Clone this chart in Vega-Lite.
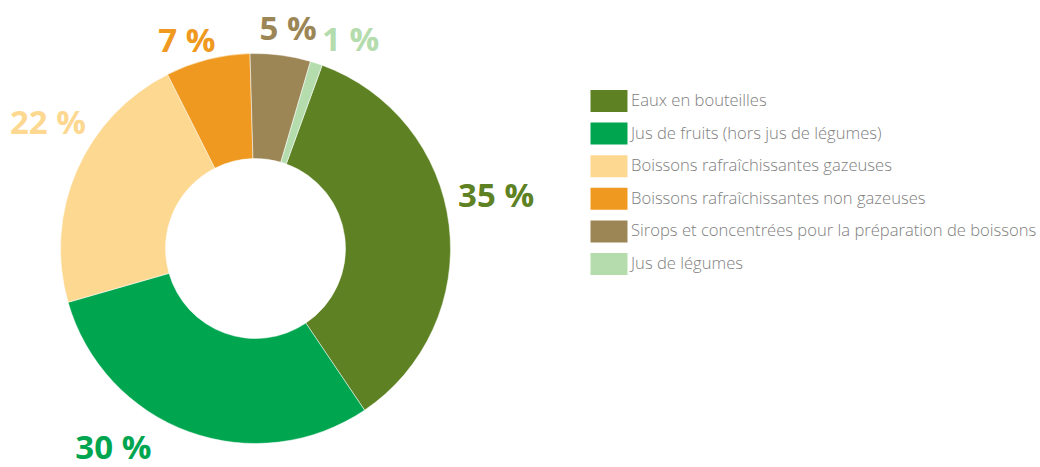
{
  "$schema": "https://vega.github.io/schema/vega-lite/v6.json",
  "width": 1040,
  "height": 467,
  "padding": 0,
  "autosize": {"type": "none"},
  "background": "white",
  "config": {"view": {"stroke": null}, "text": {"font": "Open Sans", "fontSize": 33, "fontWeight": "bold", "baseline": "middle", "align": "center"}},
  "data": {
    "values": [
      {"cat": "Eaux en bouteilles", "value": 35, "rank": 1, "label": "35 %"},
      {"cat": "Jus de fruits (hors jus de légumes)", "value": 30, "rank": 2, "label": "30 %"},
      {"cat": "Boissons rafraîchissantes gazeuses", "value": 22, "rank": 3, "label": "22 %"},
      {"cat": "Boissons rafraîchissantes non gazeuses", "value": 7, "rank": 4, "label": "7 %"},
      {"cat": "Sirops et concentrées pour la préparation de boissons", "value": 5, "rank": 5, "label": "5 %"},
      {"cat": "Jus de légumes", "value": 1, "rank": 6, "label": "1 %"}
    ]
  },
  "encoding": {
    "theta": {"field": "value", "type": "quantitative", "stack": true, "scale": {"range": [0.349, 6.632]}},
    "order": {"field": "rank", "type": "quantitative"},
    "color": {
      "field": "cat",
      "type": "nominal",
      "sort": null,
      "scale": {
        "domain": ["Eaux en bouteilles", "Jus de fruits (hors jus de légumes)", "Boissons rafraîchissantes gazeuses", "Boissons rafraîchissantes non gazeuses", "Sirops et concentrées pour la préparation de boissons", "Jus de légumes"],
        "range": ["#5e8223", "#00a550", "#fdd890", "#ef9920", "#9c8656", "#b4dcad"]
      },
      "legend": {
        "title": null,
        "orient": "none",
        "legendX": 598,
        "legendY": 90,
        "symbolType": "M-1.68,-1H1.68V1H-1.68Z",
        "symbolSize": 484,
        "symbolStrokeWidth": 0,
        "symbolOpacity": 1,
        "labelFont": "Open Sans",
        "labelFontSize": 16.6,
        "labelFontWeight": 300,
        "labelColor": "#808080",
        "labelOffset": 11,
        "labelLimit": 600,
        "rowPadding": 10.6
      }
    }
  },
  "layer": [
    {
      "mark": {"type": "arc", "x": 255.5, "y": 248.5, "outerRadius": 195, "innerRadius": 90, "stroke": "white", "strokeWidth": 0.5}
    },
    {
      "mark": {"type": "text", "x": 255.5, "y": 248.5, "radius": 246, "thetaOffset": -0.087},
      "encoding": {"text": {"condition": {"test": "datum.rank == 1", "field": "label"}, "value": ""}}
    },
    {
      "mark": {"type": "text", "x": 255.5, "y": 248.5, "radius": 246, "thetaOffset": 0.267},
      "encoding": {"text": {"condition": {"test": "datum.rank == 2", "field": "label"}, "value": ""}}
    },
    {
      "mark": {"type": "text", "x": 255.5, "y": 248.5, "radius": 242, "thetaOffset": 0.129},
      "encoding": {"text": {"condition": {"test": "datum.rank == 3", "field": "label"}, "value": ""}}
    },
    {
      "mark": {"type": "text", "x": 255.5, "y": 248.5, "radius": 218, "thetaOffset": -0.072},
      "encoding": {"text": {"condition": {"test": "datum.rank == 4", "field": "label"}, "value": ""}}
    },
    {
      "mark": {"type": "text", "x": 255.5, "y": 248.5, "radius": 221, "thetaOffset": 0.019},
      "encoding": {"text": {"condition": {"test": "datum.rank == 5", "field": "label"}, "value": ""}}
    },
    {
      "mark": {"type": "text", "x": 255.5, "y": 248.5, "radius": 228, "thetaOffset": 0.113},
      "encoding": {"text": {"condition": {"test": "datum.rank == 6", "field": "label"}, "value": ""}}
    }
  ]
}
